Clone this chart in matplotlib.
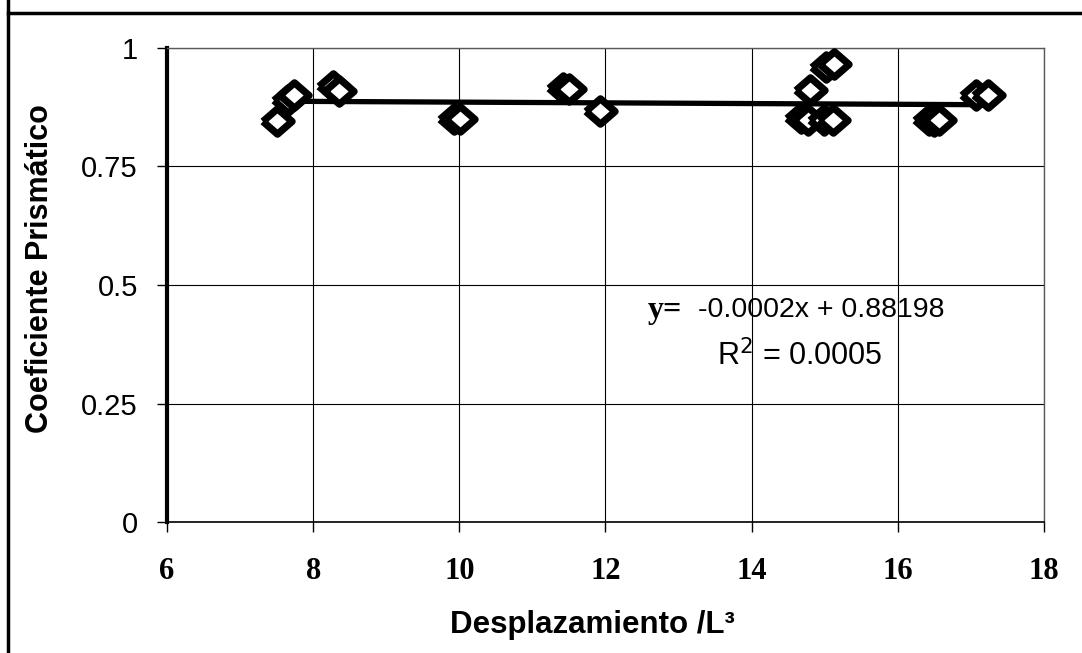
import numpy as np
import matplotlib
matplotlib.use('Agg')
import matplotlib.pyplot as plt
from matplotlib.lines import Line2D

# datos
desplazamiento = [7.51, 7.66, 7.74, 8.27, 8.36, 9.93, 10.01, 11.42, 11.50, 11.93,
                  14.67, 14.77, 14.80, 15.02, 15.13, 14.99, 15.11,
                  16.42, 16.50, 16.56, 17.07, 17.23]
coef_prismatico = [0.845, 0.890, 0.900, 0.920, 0.910, 0.850, 0.850, 0.915, 0.913, 0.868,
                   0.852, 0.849, 0.911, 0.960, 0.966, 0.848, 0.848,
                   0.849, 0.847, 0.849, 0.900, 0.900]
x_ticks = [6, 8, 10, 12, 14, 16, 18]
y_ticks = [0, 0.25, 0.5, 0.75, 1]
y_tick_labels = ['0', '0.25', '0.5', '0.75', '1']
ecuacion_y = 'y='
ecuacion = '-0.0002x + 0.88198'
r2_texto = 'R$^2$ = 0.0005'

fig = plt.figure(figsize=(10.82, 6.53), dpi=100)
ax = fig.add_axes([0.1543, 0.2006, 0.8106, 0.7259])

# rombo un poco mas ancho que alto
rombo = [(-1, 0), (0, 0.87), (1, 0), (0, -0.87), (-1, 0)]
ax.plot(desplazamiento, coef_prismatico, linestyle='none', marker=rombo,
        markersize=21, markerfacecolor='white', markeredgecolor='black',
        markeredgewidth=5.2, zorder=3)

# linea de tendencia
m, b = np.polyfit(desplazamiento, coef_prismatico, 1)
xs = np.array([min(desplazamiento), max(desplazamiento)])
ax.plot(xs, m * xs + b, color='black', linewidth=3.8, zorder=2)

ax.set_xlim(6, 18)
ax.set_ylim(0, 1)
ax.set_xticks(x_ticks)
ax.set_yticks(y_ticks)
ax.set_yticklabels(y_tick_labels)
ax.grid(True, color='black', linewidth=0.8)
ax.set_axisbelow(True)

for lab in ax.get_xticklabels():
    lab.set_fontfamily('Liberation Serif')
    lab.set_fontweight('bold')
    lab.set_fontsize(22)
for lab in ax.get_yticklabels():
    lab.set_fontfamily('Liberation Sans')
    lab.set_fontsize(21)

ax.tick_params(axis='x', direction='out', length=7, width=1, pad=18)
ax.tick_params(axis='y', direction='out', length=7, width=1, pad=14)

ax.spines['left'].set_linewidth(3)
ax.spines['bottom'].set_linewidth(1.2)
ax.spines['top'].set_linewidth(1)
ax.spines['top'].set_color('0.35')
ax.spines['right'].set_linewidth(1)
ax.spines['right'].set_color('0.35')

ax.set_xlabel('Desplazamiento /L³', fontfamily='Liberation Sans',
              fontweight='bold', fontsize=22.5)
ax.set_ylabel('Coeficiente Prismático', fontfamily='Liberation Sans',
              fontweight='bold', fontsize=22)
ax.xaxis.set_label_coords(0.485, -0.185)
ax.yaxis.set_label_coords(-0.128, 0.534)

ax.text(0.5485, 0.447, ecuacion_y, transform=ax.transAxes, ha='left', va='center',
        fontfamily='Liberation Serif', fontweight='bold', fontsize=23)
ax.text(0.887, 0.447, ecuacion, transform=ax.transAxes, ha='right', va='center',
        fontfamily='Liberation Sans', fontsize=20.5)
ax.text(0.722, 0.35, r2_texto, transform=ax.transAxes, ha='center', va='center',
        fontfamily='Liberation Sans', fontsize=22)

# marco exterior
fig.add_artist(Line2D([8 / 1082, 8 / 1082], [0, 1], transform=fig.transFigure,
                      color='black', linewidth=2.5))
fig.add_artist(Line2D([8 / 1082, 1], [1 - 13 / 653, 1 - 13 / 653],
                      transform=fig.transFigure, color='black', linewidth=2.5))

fig.savefig('out.png', dpi=100)
